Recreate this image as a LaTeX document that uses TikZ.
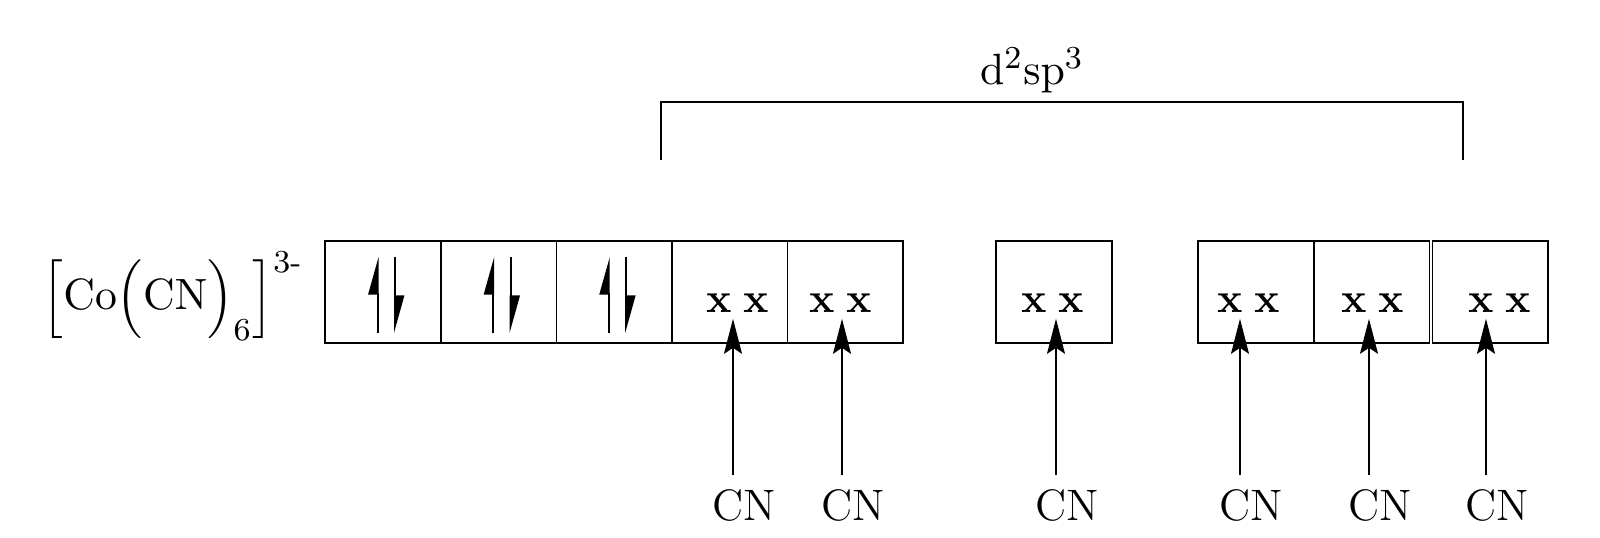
\documentclass[tikz,border=0pt]{standalone}
\usepackage{amsmath}
\usetikzlibrary{arrows.meta, positioning}

\begin{document}
\begin{tikzpicture}[x=0.25pt, y=-0.25pt, font=\fontsize{11}{13}\selectfont,
        orb/.style={draw, line width=0.4pt, minimum width=28.9pt, minimum height=25.5pt, inner sep=0pt, outer sep=0pt},
        spinup/.style={line width=0.5pt, -{Triangle[left, length=8.5pt, width=4.6pt]}},
        spindown/.style={spinup},
        pair/.style={inner sep=0pt, anchor=base, font=\fontsize{10.5}{12}\selectfont\bfseries},
        donate/.style={line width=0.4pt, shorten >=1.5pt, -{Stealth[length=8.75pt, width=4.5pt, inset=1.5pt]}}]
    \useasboundingbox (0,0) rectangle (1600,537);

        % Draw the complex
        \node (ion) at (173,296) {$\Bigl[\mathrm{Co}\Bigl(\mathrm{CN}\Bigr)_{6}\Bigr]^{3\text{-}}$};

        % Draw the orbitals
        \node[orb]                  (b1) at (383,292) {};
        \node[orb, right=0pt of b1] (b2) {};
        \node[orb, right=0pt of b2] (b3) {};
        \node[orb, right=0pt of b3] (b4) {};
        \node[orb, right=0pt of b4] (b5) {};

        \node[orb]                  (b6) at (1054,292) {};

        \node[orb]                    (b7) at (1256,292) {};
        \node[orb, right=0pt of b7]   (b8) {};
        \node[orb, right=0.75pt of b8] (b9) {};

        % Paired electrons
        \draw[spinup]   ([shift={(-5.5,41)}]b1.center) -- ++(0,-76);
        \draw[spindown] ([shift={(12,-35)}]b1.center)  -- ++(0,76);
        \draw[spinup]   ([shift={(-5.5,41)}]b2.center) -- ++(0,-76);
        \draw[spindown] ([shift={(12,-35)}]b2.center)  -- ++(0,76);
        \draw[spinup]   ([shift={(-5.5,41)}]b3.center) -- ++(0,-76);
        \draw[spindown] ([shift={(12,-35)}]b3.center)  -- ++(0,76);

        % Ligand electron pairs
        \node[pair] (x4) at (738,312)  {x\hspace{3pt}x};
        \node[pair] (x5) at (841,312)  {x\hspace{3pt}x};
        \node[pair] (x6) at (1053,312) {x\hspace{3pt}x};
        \node[pair] (x7) at (1249,312) {x\hspace{3pt}x};
        \node[pair] (x8) at (1373,312) {x\hspace{3pt}x};
        \node[pair] (x9) at (1500,312) {x\hspace{3pt}x};

        % Ligands
        \node (c4) at (744,505)  {CN};
        \node (c5) at (853,505)  {CN};
        \node (c6) at (1067,505) {CN};
        \node (c7) at (1251,505) {CN};
        \node (c8) at (1380,505) {CN};
        \node (c9) at (1497,505) {CN};

        \draw[donate] ([xshift=-2.75pt]c4.north) -- ([xshift=-2.75pt]c4.north |- x4.south);
        \draw[donate] ([xshift=-2.75pt]c5.north) -- ([xshift=-2.75pt]c5.north |- x5.south);
        \draw[donate] ([xshift=-2.75pt]c6.north) -- ([xshift=-2.75pt]c6.north |- x6.south);
        \draw[donate] ([xshift=-2.75pt]c7.north) -- ([xshift=-2.75pt]c7.north |- x7.south);
        \draw[donate] ([xshift=-2.75pt]c8.north) -- ([xshift=-2.75pt]c8.north |- x8.south);
        \draw[donate] ([xshift=-2.75pt]c9.north) -- ([xshift=-2.75pt]c9.north |- x9.south);

        % Hybrid bracket
        \coordinate (hl) at (661,160);
        \coordinate (hr) at (1463,160);
        \draw[line width=0.4pt] (hl) -- ++(0,-58) -| (hr);
        \node (hyb) at (1032,70) {$\mathrm{d}^2\mathrm{sp}^3$};
\end{tikzpicture}
\end{document}
